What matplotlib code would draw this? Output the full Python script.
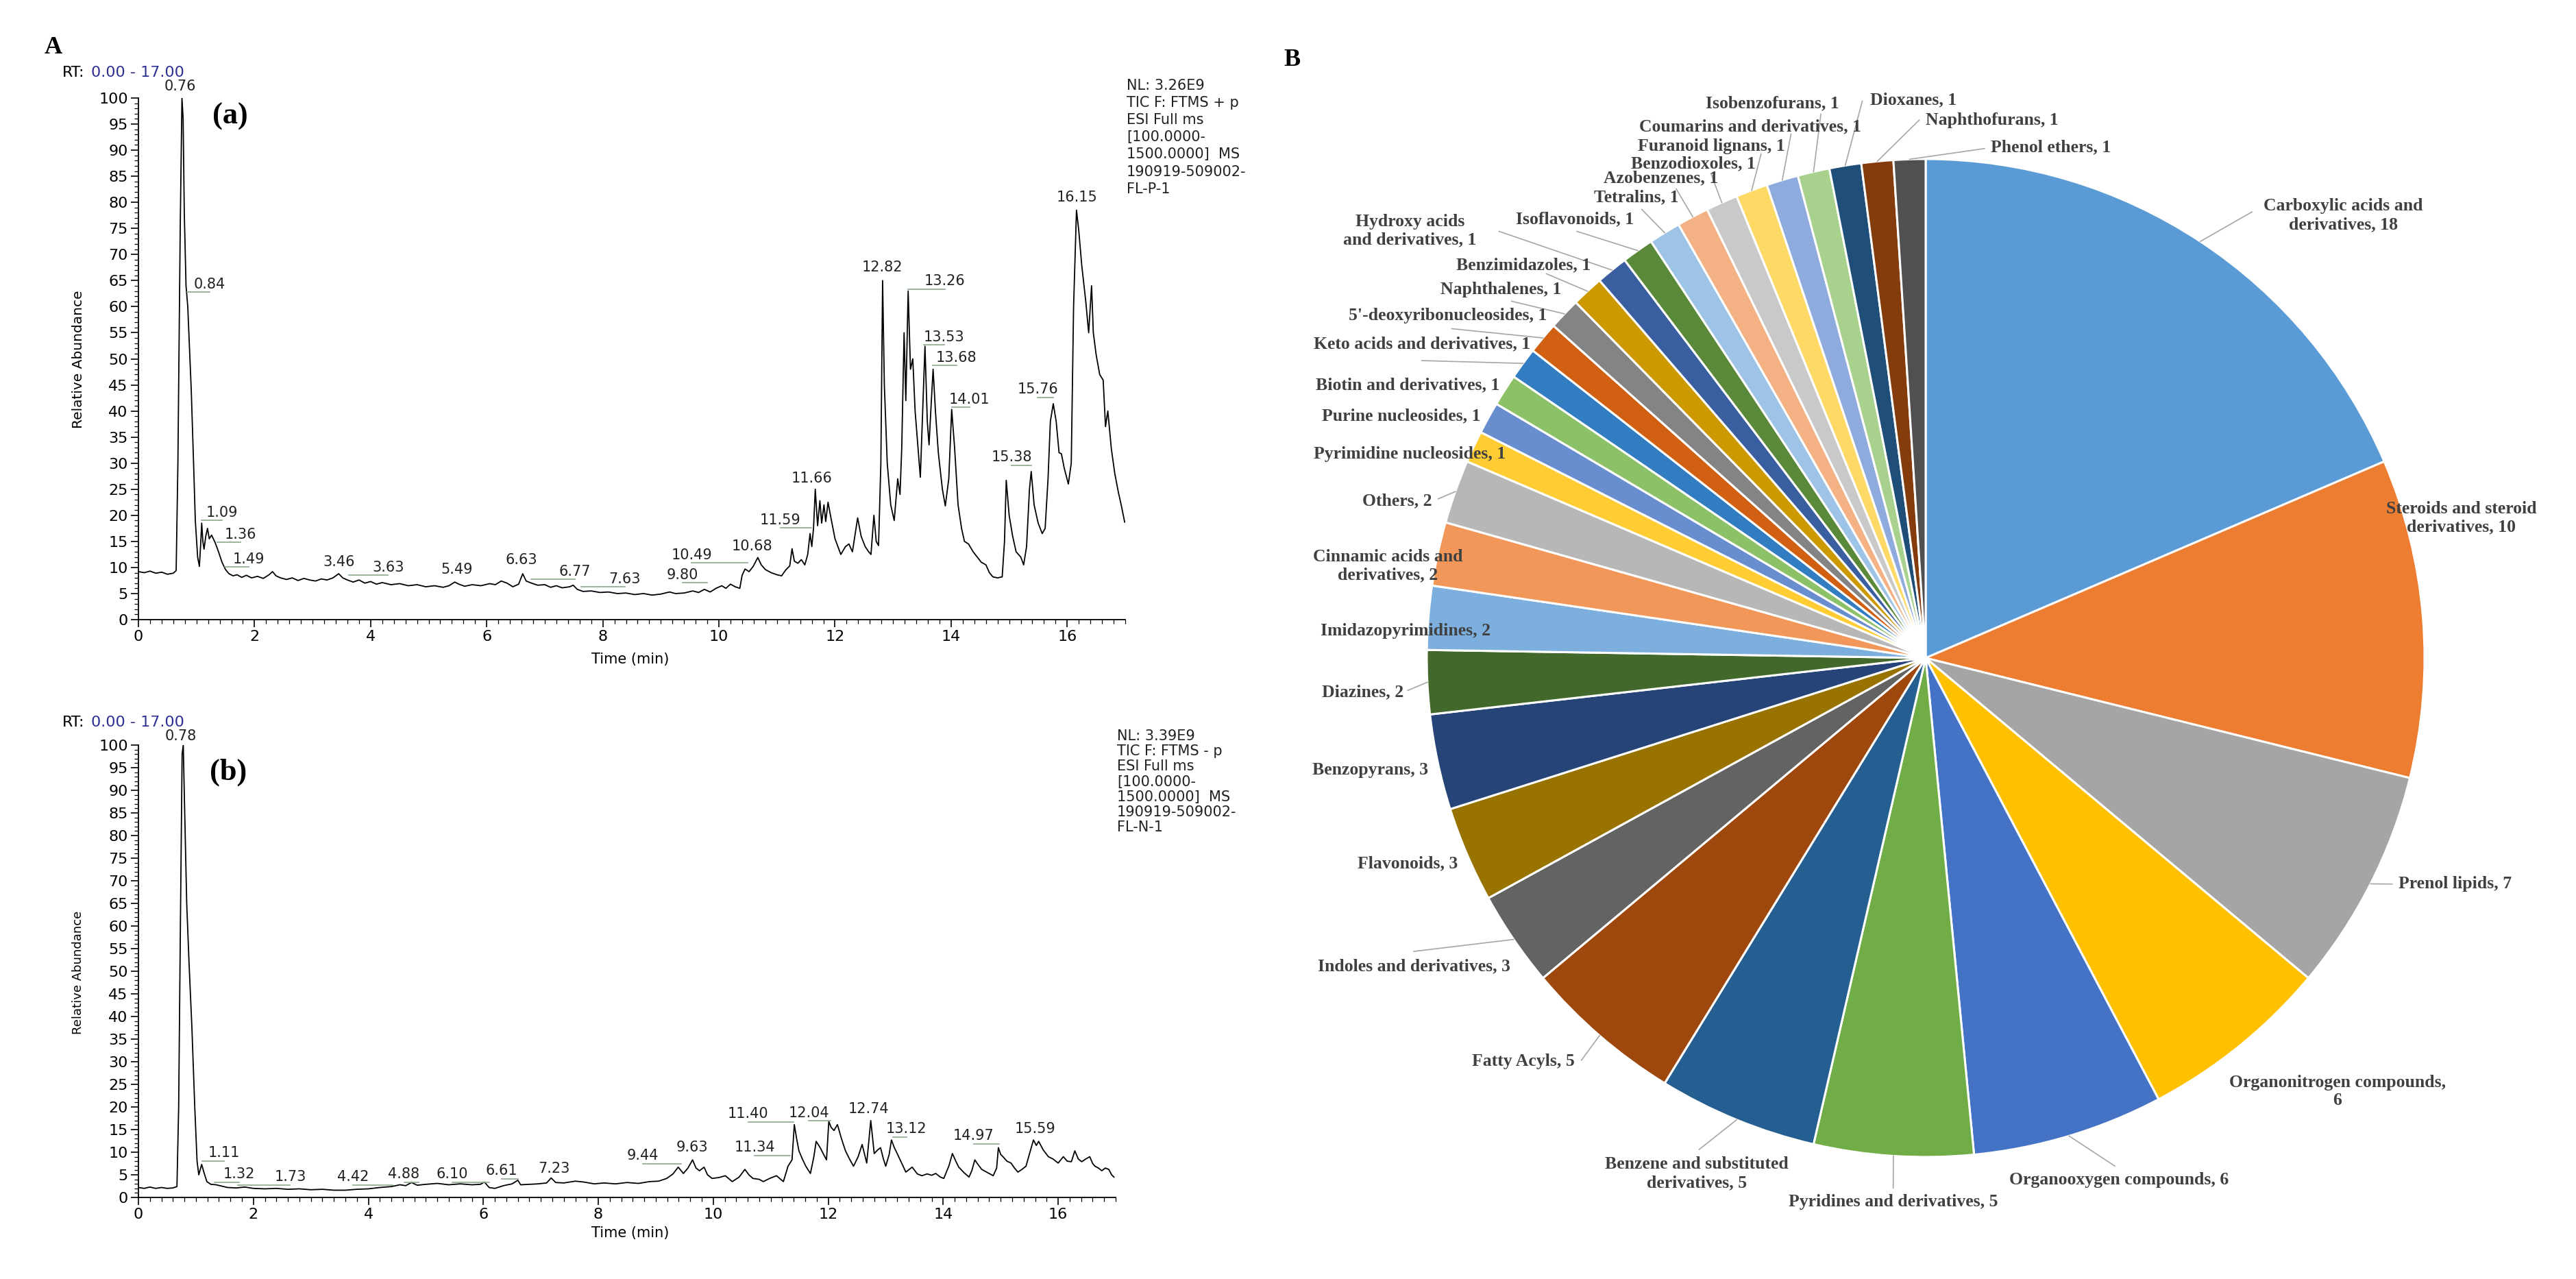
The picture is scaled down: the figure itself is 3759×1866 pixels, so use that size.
import numpy as np
import matplotlib
matplotlib.use('Agg')
from matplotlib import pyplot as plt
from matplotlib.ticker import MultipleLocator

# ---------------- data: chromatogram (a), positive mode ----------------
trace_a = [
    (0.00, 9.2), (0.10, 9.0), (0.20, 9.3), (0.30, 8.9), (0.40, 9.1), (0.50, 8.7), (0.60, 8.9),
    (0.65, 9.4), (0.68, 30), (0.72, 75), (0.75, 100), (0.77, 96), (0.79, 78), (0.82, 64),
    (0.85, 60), (0.88, 52), (0.91, 44), (0.95, 30), (0.98, 19), (1.02, 12), (1.05, 10.2),
    (1.07, 14), (1.09, 18.5), (1.11, 15), (1.13, 13.5), (1.16, 16), (1.19, 17.5), (1.22, 15.5),
    (1.26, 16.2), (1.32, 14.8), (1.38, 13), (1.44, 11), (1.50, 9.6), (1.56, 8.8), (1.63, 8.4),
    (1.70, 8.6), (1.78, 8.1), (1.86, 8.5), (1.95, 8.0), (2.05, 8.3), (2.15, 7.9), (2.25, 8.6),
    (2.31, 9.2), (2.37, 8.4), (2.45, 8.0), (2.55, 7.7), (2.65, 8.0), (2.75, 7.5), (2.85, 7.9),
    (2.95, 7.6), (3.05, 7.4), (3.15, 7.8), (3.25, 7.6), (3.35, 8.0), (3.45, 8.8), (3.52, 8.0),
    (3.60, 7.6), (3.70, 7.2), (3.80, 7.6), (3.90, 7.0), (4.00, 7.3), (4.10, 6.8), (4.20, 7.1),
    (4.35, 6.7), (4.50, 6.9), (4.65, 6.5), (4.80, 6.7), (4.95, 6.3), (5.10, 6.5), (5.25, 6.2),
    (5.35, 6.5), (5.45, 7.2), (5.52, 6.8), (5.62, 6.4), (5.75, 6.7), (5.90, 6.5), (6.05, 6.9),
    (6.15, 6.7), (6.25, 7.4), (6.35, 7.0), (6.45, 6.3), (6.55, 6.8), (6.62, 8.8), (6.68, 7.4),
    (6.77, 7.0), (6.88, 6.6), (7.00, 6.7), (7.10, 6.2), (7.20, 6.5), (7.30, 6.1), (7.43, 6.3),
    (7.49, 6.6), (7.56, 5.8), (7.66, 5.4), (7.80, 5.5), (7.95, 5.2), (8.10, 5.3), (8.25, 5.0),
    (8.40, 5.1), (8.55, 4.8), (8.70, 5.0), (8.85, 4.7), (9.00, 4.9), (9.15, 5.3), (9.25, 5.0),
    (9.40, 5.1), (9.55, 5.5), (9.65, 5.2), (9.75, 5.8), (9.85, 5.3), (9.95, 6.0), (10.05, 6.5),
    (10.12, 6.0), (10.20, 6.8), (10.28, 6.3), (10.36, 6.0), (10.40, 8.5), (10.45, 9.7),
    (10.52, 9.2), (10.59, 10.2), (10.67, 11.9), (10.73, 10.5), (10.80, 9.6), (10.90, 9.0),
    (11.00, 8.6), (11.08, 8.4), (11.15, 9.5), (11.22, 10.3), (11.26, 13.6), (11.30, 11.2),
    (11.36, 10.8), (11.42, 11.5), (11.48, 10.5), (11.53, 12.5), (11.57, 16.5), (11.60, 14.0),
    (11.63, 17.5), (11.66, 25.0), (11.70, 18.0), (11.74, 22.8), (11.77, 18.5), (11.81, 22.0),
    (11.84, 18.8), (11.88, 22.5), (11.93, 19.5), (12.00, 15.5), (12.10, 12.5), (12.18, 14.0),
    (12.24, 14.5), (12.30, 13.0), (12.39, 19.5), (12.45, 16.0), (12.52, 14.0), (12.58, 13.0),
    (12.62, 12.5), (12.67, 20.0), (12.71, 15.0), (12.75, 14.2), (12.79, 30.0), (12.82, 65.0),
    (12.85, 45.0), (12.90, 30.0), (12.96, 22.0), (13.02, 19.0), (13.08, 27.0), (13.12, 24.0),
    (13.15, 33.0), (13.19, 55.0), (13.22, 42.0), (13.26, 63.0), (13.30, 48.0), (13.34, 50.0),
    (13.38, 40.0), (13.43, 33.0), (13.47, 27.3), (13.51, 40.0), (13.55, 52.4), (13.59, 38.0),
    (13.62, 33.5), (13.66, 42.0), (13.69, 48.0), (13.73, 40.0), (13.78, 32.0), (13.85, 25.0),
    (13.90, 21.8), (13.96, 27.0), (14.01, 40.3), (14.06, 33.0), (14.12, 22.0), (14.18, 17.5),
    (14.23, 15.0), (14.30, 14.5), (14.38, 13.0), (14.45, 12.0), (14.52, 11.0), (14.60, 10.5),
    (14.66, 9.0), (14.72, 8.2), (14.80, 8.0), (14.88, 8.2), (14.92, 15.0), (14.95, 26.7),
    (15.00, 20.0), (15.06, 16.0), (15.12, 13.0), (15.20, 12.0), (15.25, 10.5), (15.30, 14.0),
    (15.35, 25.0), (15.38, 28.4), (15.43, 22.0), (15.50, 18.5), (15.57, 16.5), (15.62, 17.5),
    (15.67, 27.0), (15.71, 38.0), (15.76, 41.4), (15.81, 38.0), (15.86, 32.0), (15.90, 31.8),
    (15.95, 29.0), (16.02, 26.0), (16.07, 30.0), (16.11, 60.0), (16.16, 78.5), (16.20, 74.5),
    (16.25, 68.0), (16.32, 61.0), (16.37, 55.0), (16.42, 64.0), (16.45, 55.0), (16.50, 50.7),
    (16.56, 47.0), (16.62, 45.9), (16.66, 37.0), (16.70, 40.0), (16.76, 32.8), (16.82, 28.0),
    (16.88, 24.5), (16.93, 22.0), (16.99, 18.7),
]
peaks_a = [0.76, 0.84, 1.09, 1.36, 1.49, 3.46, 3.63, 5.49, 6.63, 6.77, 7.63, 9.80,
           10.49, 10.68, 11.59, 11.66, 12.82, 13.26, 13.53, 13.68, 14.01, 15.38, 15.76, 16.15]
label_t_a = [0.72, 1.23, 1.44, 1.76, 1.90, 3.45, 4.30, 5.48, 6.60, 7.52, 8.38, 9.37,
             9.53, 10.57, 11.06, 11.60, 12.82, 13.89, 13.88, 14.09, 14.32, 15.04, 15.49, 16.17]
label_y_a = [102.2, 64.3, 20.5, 16.3, 11.6, 11.0, 10.0, 9.6, 11.4, 9.2, 7.8, 8.6,
             12.4, 14.1, 19.1, 27.1, 67.5, 64.9, 54.2, 50.2, 42.2, 31.1, 44.1, 80.9]
info_a = "NL: 3.26E9\nTIC F: FTMS + p\nESI Full ms\n[100.0000-\n1500.0000]  MS\n190919-509002-\nFL-P-1"

# ---------------- data: chromatogram (b), negative mode ----------------
trace_b = [
    (0.00, 2.2), (0.10, 2.0), (0.20, 2.3), (0.30, 2.0), (0.40, 2.2), (0.50, 2.0), (0.60, 2.1),
    (0.67, 2.4), (0.70, 20), (0.73, 60), (0.76, 98), (0.78, 100), (0.80, 88), (0.84, 65),
    (0.88, 52), (0.93, 37.6), (0.98, 20), (1.02, 8), (1.05, 5.0), (1.10, 7.3), (1.14, 5.5),
    (1.19, 3.5), (1.26, 2.9), (1.35, 2.8), (1.45, 2.5), (1.55, 2.2), (1.70, 2.1), (1.85, 2.3),
    (2.00, 2.0), (2.20, 1.9), (2.40, 2.0), (2.60, 1.8), (2.80, 1.9), (3.00, 1.7), (3.20, 1.8),
    (3.40, 1.6), (3.60, 1.6), (3.80, 1.8), (4.00, 1.9), (4.20, 2.2), (4.40, 2.4), (4.55, 2.8),
    (4.65, 2.6), (4.75, 3.3), (4.85, 2.7), (5.00, 2.9), (5.20, 3.1), (5.40, 2.8), (5.60, 3.0),
    (5.80, 2.8), (5.95, 2.9), (6.02, 3.4), (6.10, 2.2), (6.20, 2.0), (6.35, 2.6), (6.50, 3.0),
    (6.60, 3.8), (6.65, 2.8), (6.80, 2.9), (6.95, 3.0), (7.10, 3.2), (7.18, 4.3), (7.26, 3.3),
    (7.40, 3.2), (7.60, 3.6), (7.75, 3.4), (7.93, 3.0), (8.10, 3.2), (8.30, 3.0), (8.50, 3.3),
    (8.70, 3.1), (8.89, 3.5), (9.05, 3.6), (9.19, 4.2), (9.30, 5.2), (9.39, 6.7), (9.48, 5.3),
    (9.56, 6.5), (9.64, 8.3), (9.70, 6.5), (9.76, 5.9), (9.84, 6.7), (9.90, 5.0), (9.98, 4.2),
    (10.10, 4.4), (10.21, 4.8), (10.33, 3.5), (10.45, 4.5), (10.55, 6.2), (10.62, 5.0),
    (10.69, 4.2), (10.80, 4.0), (10.87, 3.5), (10.98, 4.2), (11.10, 4.8), (11.22, 3.5),
    (11.30, 6.9), (11.37, 8.3), (11.41, 16.1), (11.45, 13.0), (11.49, 10.3), (11.55, 8.5),
    (11.61, 6.9), (11.69, 5.3), (11.75, 9.0), (11.79, 12.4), (11.86, 11.0), (11.92, 9.5),
    (11.97, 8.3), (12.01, 16.8), (12.05, 15.5), (12.10, 14.8), (12.16, 16.1), (12.23, 13.0),
    (12.30, 10.3), (12.37, 8.5), (12.44, 6.9), (12.52, 9.0), (12.59, 11.7), (12.67, 7.6),
    (12.74, 17.0), (12.80, 9.7), (12.86, 10.5), (12.91, 11.0), (12.96, 8.5), (13.00, 6.9),
    (13.06, 9.5), (13.10, 12.7), (13.15, 11.0), (13.20, 9.7), (13.28, 7.5), (13.35, 5.6),
    (13.41, 6.2), (13.46, 6.7), (13.55, 5.2), (13.63, 4.8), (13.72, 5.2), (13.80, 4.9),
    (13.87, 5.3), (13.95, 4.5), (14.01, 4.2), (14.10, 7.0), (14.16, 9.7), (14.22, 8.0),
    (14.27, 6.7), (14.36, 5.5), (14.45, 4.5), (14.50, 6.0), (14.55, 8.3), (14.61, 7.2),
    (14.67, 6.2), (14.77, 5.5), (14.87, 4.8), (14.93, 6.5), (14.96, 11.0), (15.00, 9.5),
    (15.04, 9.0), (15.11, 8.0), (15.18, 7.6), (15.24, 6.5), (15.30, 5.6), (15.37, 6.2),
    (15.44, 6.9), (15.51, 10.0), (15.57, 12.7), (15.62, 11.5), (15.66, 12.4), (15.74, 10.5),
    (15.83, 9.0), (15.91, 8.5), (16.00, 7.6), (16.09, 9.0), (16.16, 8.0), (16.23, 7.9),
    (16.29, 10.3), (16.35, 8.5), (16.41, 7.9), (16.48, 8.5), (16.55, 9.0), (16.60, 7.5),
    (16.64, 6.9), (16.70, 6.5), (16.76, 5.9), (16.82, 6.5), (16.88, 6.2), (16.93, 5.0),
    (16.97, 4.5),
]
peaks_b = [0.78, 1.11, 1.32, 1.73, 4.42, 4.88, 6.10, 6.61, 7.23, 9.44, 9.63,
           11.34, 11.40, 12.04, 12.74, 13.12, 14.97, 15.59]
label_t_b = [0.74, 1.49, 1.75, 2.64, 3.73, 4.62, 5.46, 6.32, 7.23, 8.77, 9.63,
             10.72, 10.61, 11.66, 12.70, 13.36, 14.53, 15.60]
label_y_b = [102, 9.9, 5.2, 4.5, 4.5, 5.2, 5.2, 5.9, 6.3, 9.3, 11,
             11, 18.5, 18.7, 19.6, 15.2, 13.6, 15.2]
info_b = "NL: 3.39E9\nTIC F: FTMS - p\nESI Full ms\n[100.0000-\n1500.0000]  MS\n190919-509002-\nFL-N-1"

# ---------------- data: pie of compound classes ----------------
classes = [
    "Carboxylic acids and\nderivatives", "Steroids and steroid\nderivatives", "Prenol lipids",
    "Organonitrogen compounds,\n", "Organooxygen compounds", "Pyridines and derivatives",
    "Benzene and substituted\nderivatives", "Fatty Acyls", "Indoles and derivatives",
    "Flavonoids", "Benzopyrans", "Diazines", "Imidazopyrimidines",
    "Cinnamic acids and\nderivatives", "Others", "Pyrimidine nucleosides",
    "Purine nucleosides", "Biotin and derivatives", "Keto acids and derivatives",
    "5'-deoxyribonucleosides", "Naphthalenes", "Benzimidazoles",
    "Hydroxy acids\nand derivatives", "Isoflavonoids", "Tetralins", "Azobenzenes",
    "Benzodioxoles", "Furanoid lignans", "Coumarins and derivatives", "Isobenzofurans",
    "Dioxanes", "Naphthofurans", "Phenol ethers",
]
counts = [18, 10, 7, 6, 6, 5, 5, 5, 3, 3, 3, 2, 2, 2, 2,
          1, 1, 1, 1, 1, 1, 1, 1, 1, 1, 1, 1, 1, 1, 1, 1, 1, 1]
colors = ['#5B9BD5', '#ED7D31', '#A5A5A5', '#FFC000', '#4472C4', '#70AD47',
          '#255E91', '#9E480E', '#636363', '#997300', '#264478', '#43682B',
          '#7CAFDD', '#F1975A', '#B7B7B7', '#FFCD33', '#698ED0', '#8CC168',
          '#327DC2', '#D26012', '#848484', '#CC9A00', '#3A5FA0', '#5A8A39',
          '#9DC3E6', '#F4B183', '#C9C9C9', '#FFD966', '#8FAADC', '#A9D18E',
          '#1F4E79', '#843C0C', '#505050']

# label layout in pie units (radius = 1): text position, alignment, leader end
label_pos = [
    (0.837, 0.887, 'center', (0.654, 0.894)), (1.074, 0.281, 'center', None),
    (0.948, -0.453, 'left', (0.935, -0.453)), (0.825, -0.869, 'center', None),
    (0.387, -1.046, 'center', (0.379, -1.018)), (-0.065, -1.090, 'center', (-0.065, -1.062)),
    (-0.459, -1.033, 'center', (-0.454, -0.985)), (-0.703, -0.809, 'right', (-0.690, -0.806)),
    (-1.026, -0.618, 'center', (-1.026, -0.588)), (-1.038, -0.412, 'center', None),
    (-1.113, -0.225, 'center', None), (-1.047, -0.069, 'right', (-1.038, -0.065)),
    (-1.042, 0.054, 'center', None), (-1.078, 0.185, 'center', None),
    (-0.990, 0.315, 'right', (-0.977, 0.319)), (-1.034, 0.408, 'center', None),
    (-1.051, 0.485, 'center', None), (-1.038, 0.547, 'center', None),
    (-1.010, 0.629, 'center', (-1.010, 0.596)), (-0.958, 0.686, 'center', (-0.95, 0.66)),
    (-0.851, 0.739, 'center', (-0.83, 0.715)), (-0.806, 0.788, 'center', (-0.76, 0.77)),
    (-1.034, 0.856, 'center', (-0.855, 0.855)), (-0.703, 0.879, 'center', (-0.699, 0.855)),
    (-0.580, 0.923, 'center', (-0.569, 0.899)), (-0.531, 0.962, 'center', (-0.50, 0.94)),
    (-0.466, 0.990, 'center', (-0.43, 0.97)), (-0.430, 1.025, 'center', (-0.33, 1.01)),
    (-0.351, 1.065, 'center', (-0.27, 1.05)), (-0.307, 1.111, 'center', (-0.21, 1.09)),
    (-0.111, 1.118, 'left', (-0.127, 1.116)), (0.0, 1.078, 'left', (-0.013, 1.078)),
    (0.131, 1.023, 'left', (0.118, 1.021)),
]

W, H = 3759, 1866
fig = plt.figure(figsize=(W / 100, H / 100), dpi=100)


def box(x0, y0, x1, y1):
    # pixel box measured from the top left -> figure fractions
    return [x0 / W, 1 - y1 / H, (x1 - x0) / W, (y1 - y0) / H]


serif = ['Liberation Serif', 'DejaVu Serif']

panels = [
    dict(rect=(202, 143, 1642, 904), trace=trace_a, peaks=peaks_a, lt=label_t_a, ly=label_y_a,
         info=info_a, info_xy=(1644, 115), info_ls=1.32, rt_y=106, tag='(a)', tag_xy=(336, 170),
         ylab_y=524, ylab_fs=14.5, xlab_y=962, dy=1.5),
    dict(rect=(202, 1087, 1628, 1747), trace=trace_b, peaks=peaks_b, lt=label_t_b, ly=label_y_b,
         info=info_b, info_xy=(1630, 1064), info_ls=1.14, rt_y=1054, tag='(b)', tag_xy=(333, 1127),
         ylab_y=1419, ylab_fs=13, xlab_y=1799, dy=1.8),
]

for p in panels:
    ax = fig.add_axes(box(*p['rect']))
    t, y = zip(*p['trace'])
    ax.plot(t, y, color='black', lw=1.3)
    ax.set_xlim(0, 17)
    ax.set_ylim(0, 100)
    for s in ['top', 'right']:
        ax.spines[s].set_visible(False)
    for s in ['left', 'bottom']:
        ax.spines[s].set_linewidth(1.3)
    ax.xaxis.set_major_locator(MultipleLocator(2))
    ax.xaxis.set_minor_locator(MultipleLocator(0.2))
    ax.yaxis.set_major_locator(MultipleLocator(5))
    ax.yaxis.set_minor_locator(MultipleLocator(1))
    ax.tick_params(which='major', length=8, width=1.2, labelsize=16, pad=3)
    ax.tick_params(which='minor', length=4, width=0.9)

    for r, lt, ly in zip(p['peaks'], p['lt'], p['ly']):
        ax.text(lt, ly, f'{r:.2f}', ha='center', va='center', fontsize=15, color='#222222',
                clip_on=False)
        if abs(lt - r) > 0.15:
            ax.plot([r, lt], [ly - p['dy'], ly - p['dy']], color='#8aa88a', lw=1.2,
                    clip_on=False)

    fig.text(p['info_xy'][0] / W, 1 - p['info_xy'][1] / H, p['info'], ha='left', va='top',
             fontsize=15, linespacing=p['info_ls'], color='#222222')
    fig.text(91 / W, 1 - p['rt_y'] / H, 'RT:', ha='left', va='center', fontsize=16)
    fig.text(133 / W, 1 - p['rt_y'] / H, '0.00 - 17.00', ha='left', va='center', fontsize=16,
             color='#2e3192')
    fig.text(p['tag_xy'][0] / W, 1 - p['tag_xy'][1] / H, p['tag'], ha='center', va='center',
             fontsize=32, fontweight='bold', family=serif)
    fig.text(114 / W, 1 - p['ylab_y'] / H, 'Relative Abundance', rotation=90, ha='center',
             va='center', fontsize=p['ylab_fs'])
    fig.text(920 / W, 1 - p['xlab_y'] / H, 'Time (min)', ha='center', va='center', fontsize=15)

fig.text(78 / W, 1 - 70 / H, 'A', ha='center', va='center', fontsize=26, fontweight='bold',
         family=serif)
fig.text(1885 / W, 1 - 87 / H, 'B', ha='center', va='center', fontsize=26, fontweight='bold',
         family=serif)

# ---------------- pie ----------------
cx, cy, rad = 2810, 960, 728
pax = fig.add_axes(box(cx - rad, cy - rad, cx + rad, cy + rad))
wedges, _ = pax.pie(counts, colors=colors, startangle=90, counterclock=False, radius=1,
                    wedgeprops=dict(edgecolor='white', linewidth=2.2))
pax.set_xlim(-1, 1)
pax.set_ylim(-1, 1)
pax.set_axis_off()

for w, name, n, (lx, ly, ha, lead) in zip(wedges, classes, counts, label_pos):
    text = f'{name}{n}' if name.endswith('\n') else f'{name}, {n}'
    pax.text(lx, ly, text, ha=ha, va='center', multialignment='center', fontsize=18.5,
             fontweight='bold', family=serif, color='#404040', clip_on=False)
    if lead is not None:
        mid = np.deg2rad((w.theta1 + w.theta2) / 2)
        pax.plot([np.cos(mid), lead[0]], [np.sin(mid), lead[1]], color='#a6a6a6', lw=1.2,
                 clip_on=False)

fig.savefig('out.png', dpi=100, facecolor='white')
